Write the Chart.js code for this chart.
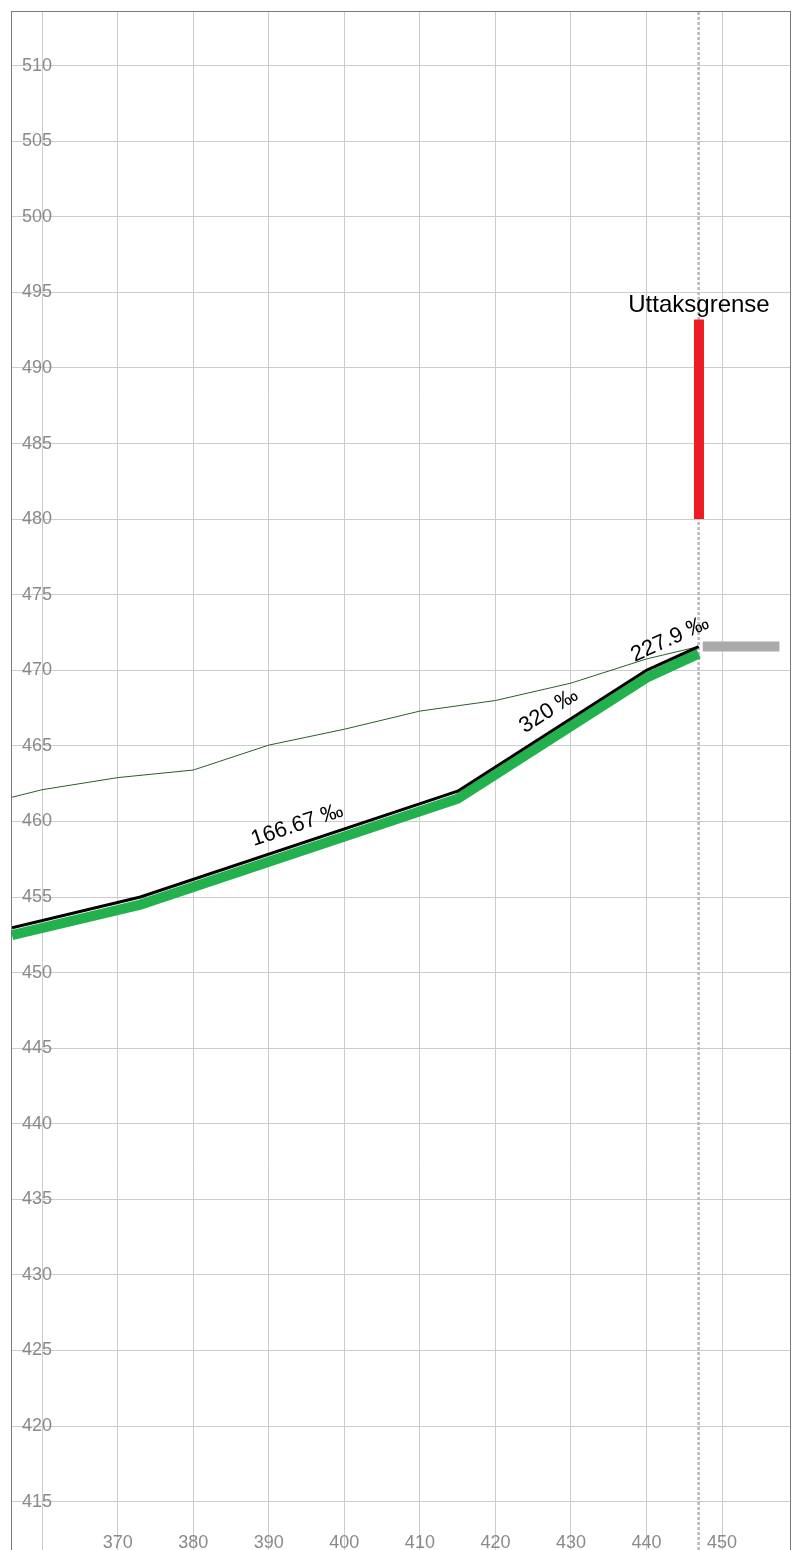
<!DOCTYPE html>
<html>
<head>
<meta charset="utf-8">
<script src="https://cdn.jsdelivr.net/npm/chart.js@4/dist/chart.umd.min.js"></script>
<style>
html,body{margin:0;padding:0;background:#fff;}
#wrap{width:795px;height:1550px;position:relative;}
</style>
</head>
<body>
<div id="wrap"><canvas id="c" width="795" height="1550"></canvas></div>
<script>
// Axis ranges and tick labels
const xMin = 356, xMax = 459;
const yMin = 411.8, yMax = 513.55;
const xTickLabels = [370, 380, 390, 400, 410, 420, 430, 440, 450];
const yTickLabels = [415, 420, 425, 430, 435, 440, 445, 450, 455, 460, 465, 470, 475, 480, 485, 490, 495, 500, 505, 510];

// Profile (black line)
const profileX = [356, 373, 415, 440, 446.9];
const profileY = [452.97, 455, 462, 470, 471.57];
// Green thick line (under the profile)
const pipeX = [356, 373, 415, 440, 446.9];
const pipeY = [452.47, 454.5, 461.5, 469.5, 471.1];
// Terrain (thin line)
const terrainX = [356, 360, 370, 380, 390, 400, 410, 420, 430, 440, 446.9];
const terrainY = [461.6, 462.1, 462.9, 463.4, 465.05, 466.1, 467.3, 468.0, 469.15, 470.75, 471.57];
// Grade labels for profile segments (start index, end index)
const gradeLabels = ['166.67 ‰', '320 ‰', '227.9 ‰'];
const gradeSegments = [[1, 2], [2, 3], [3, 4]];
// Withdrawal limit (red bar)
const limitLabel = 'Uttaksgrense';
const limitX = 446.95;
const limitY = [480, 493.2];
// Reference vertical dotted line
const refX = 446.9;
// Grey level marker
const levelX = [447.45, 457.6];
const levelY = 471.57;

const pts = (xs, ys) => xs.map((x, i) => ({x, y: Array.isArray(ys) ? ys[i] : ys}));

const annotations = {
  id: 'annotations',
  beforeDatasetsDraw(chart) {
    const {ctx, chartArea: a} = chart;
    ctx.save();
    ctx.strokeStyle = '#7a7a7a';
    ctx.lineWidth = 1;
    ctx.strokeRect(a.left - 0.5, a.top - 0.5, a.right - a.left + 1, a.bottom - a.top + 10);
    ctx.restore();
  },
  afterDatasetsDraw(chart) {
    const {ctx} = chart;
    const xs = chart.scales.x, ys = chart.scales.y;
    ctx.save();
    ctx.fillStyle = '#000';
    ctx.font = '22px "Liberation Sans", Arial, sans-serif';
    ctx.textAlign = 'center';
    ctx.textBaseline = 'alphabetic';
    gradeSegments.forEach(([i0, i1], k) => {
      const x0 = xs.getPixelForValue(profileX[i0]), y0 = ys.getPixelForValue(profileY[i0]);
      const x1 = xs.getPixelForValue(profileX[i1]), y1 = ys.getPixelForValue(profileY[i1]);
      const ang = Math.atan2(y1 - y0, x1 - x0);
      const mx = (x0 + x1) / 2, my = (y0 + y1) / 2;
      ctx.save();
      ctx.translate(mx, my - 12.5 / Math.cos(ang));
      ctx.rotate(ang);
      ctx.fillText(gradeLabels[k], 0, 0);
      ctx.restore();
    });
    ctx.font = '24px "Liberation Sans", Arial, sans-serif';
    const lx = xs.getPixelForValue(limitX);
    const ly = ys.getPixelForValue(limitY[1]);
    ctx.fillText(limitLabel, lx, ly - 7.5);
    ctx.restore();
  }
};

const flatten = (s) => {
  if (s.isHorizontal()) s.height = 0; else s.width = 0;
  s.paddingTop = 0; s.paddingBottom = 0; s.paddingLeft = 0; s.paddingRight = 0;
};

new Chart(document.getElementById('c'), {
  type: 'line',
  data: {
    datasets: [
      { data: pts(profileX, profileY), borderColor: '#000', borderWidth: 3, pointRadius: 0 },
      { data: pts(pipeX, pipeY), borderColor: '#22b14c', borderWidth: 10, pointRadius: 0 },
      { data: pts(terrainX, terrainY), borderColor: '#2b5e2b', borderWidth: 1, pointRadius: 0 },
      { data: pts([limitX, limitX], limitY), borderColor: '#ed1c24', borderWidth: 10, pointRadius: 0, borderCapStyle: 'butt' },
      { data: pts(levelX, levelY), borderColor: '#aaaaaa', borderWidth: 10, pointRadius: 0, borderCapStyle: 'butt' },
      { data: pts([refX, refX], [yMin, yMax]), borderColor: '#b8b8b8', borderWidth: 2.5, borderDash: [3, 2], pointRadius: 0 }
    ]
  },
  options: {
    responsive: false,
    animation: false,
    events: [],
    layout: { padding: { left: 12, top: 12, right: 5, bottom: 0 } },
    plugins: { legend: { display: false }, tooltip: { enabled: false } },
    scales: {
      x: {
        type: 'linear', min: xMin, max: xMax,
        afterFit: flatten,
        border: { display: false },
        grid: { color: '#cccccc', lineWidth: 1, drawTicks: false },
        ticks: {
          stepSize: 10, includeBounds: false, mirror: true, padding: -4,
          color: '#8a8a8a', font: { size: 18, family: '"Liberation Sans", Arial, sans-serif' },
          maxRotation: 0, autoSkip: false,
          callback: v => xTickLabels.includes(v) ? String(v) : ''
        }
      },
      y: {
        type: 'linear', min: yMin, max: yMax,
        afterFit: flatten,
        border: { display: false },
        grid: { color: '#cccccc', lineWidth: 1, drawTicks: false },
        ticks: {
          stepSize: 5, includeBounds: false, mirror: true, padding: 10,
          color: '#8a8a8a', font: { size: 18, family: '"Liberation Sans", Arial, sans-serif' },
          autoSkip: false,
          callback: v => yTickLabels.includes(v) ? String(v) : ''
        }
      }
    }
  },
  plugins: [annotations]
});
</script>
</body>
</html>
